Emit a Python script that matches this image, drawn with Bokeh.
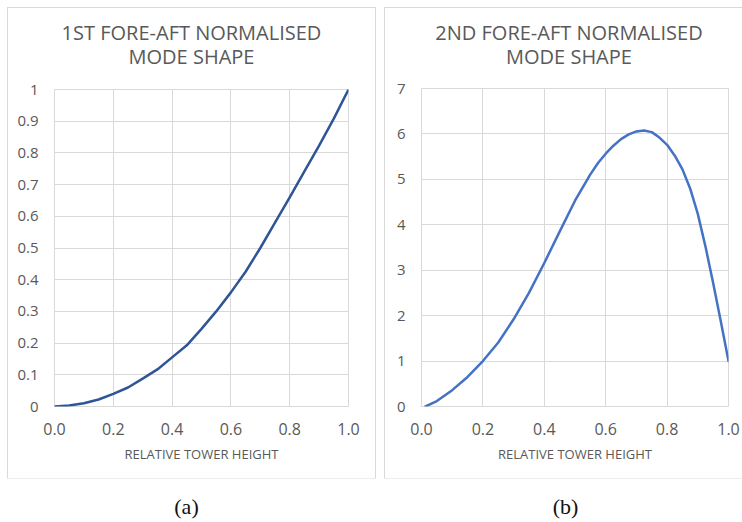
from bokeh.plotting import figure
from bokeh.layouts import row, column, Spacer
from bokeh.models import Range1d, FixedTicker, CustomJSTickFormatter, PrintfTickFormatter
from bokeh.core.properties import value
from bokeh.embed import file_html
from bokeh.resources import INLINE

# First fore-aft mode shape (normalised to tip = 1)
height_1 = [0.0, 0.05, 0.1, 0.15, 0.2, 0.25, 0.3, 0.35, 0.4, 0.45, 0.5,
            0.55, 0.6, 0.65, 0.7, 0.75, 0.8, 0.85, 0.9, 0.95, 1.0]
mode_1 = [0.0, 0.003, 0.01, 0.022, 0.04, 0.06, 0.088, 0.117, 0.155, 0.193, 0.245,
          0.3, 0.36, 0.425, 0.5, 0.58, 0.66, 0.742, 0.823, 0.908, 1.0]

# Second fore-aft mode shape (normalised to tip = 1)
height_2 = [0.013, 0.05, 0.1, 0.15, 0.2, 0.25, 0.3, 0.35, 0.4, 0.45, 0.5, 0.55,
            0.575, 0.6, 0.625, 0.65, 0.675, 0.7, 0.725, 0.75, 0.775, 0.8, 0.825,
            0.85, 0.875, 0.9, 0.925, 0.95, 0.975, 1.0]
mode_2 = [0.0, 0.12, 0.36, 0.65, 1.0, 1.41, 1.92, 2.5, 3.16, 3.85, 4.53, 5.11,
          5.36, 5.565, 5.74, 5.885, 5.99, 6.055, 6.075, 6.04, 5.92, 5.76, 5.52,
          5.22, 4.8, 4.24, 3.52, 2.72, 1.87, 1.0]

x_ticks = [0.0, 0.2, 0.4, 0.6, 0.8, 1.0]
y_ticks_1 = [0.0, 0.1, 0.2, 0.3, 0.4, 0.5, 0.6, 0.7, 0.8, 0.9, 1.0]
y_ticks_2 = [0, 1, 2, 3, 4, 5, 6, 7]

titles = [["1ST FORE-AFT NORMALISED", "MODE SHAPE"],
          ["2ND FORE-AFT NORMALISED", "MODE SHAPE"]]
x_label = "RELATIVE TOWER HEIGHT"
captions = ["(a)", "(b)"]

GREY = "#595959"
GRID = "#d9d9d9"
FONT = "Open Sans"
TITLE_H = 70


def blank(width, height):
    """A bare, axis-free figure whose data units are pixels (y measured downward)."""
    f = figure(width=width, height=height, x_range=Range1d(0, width),
               y_range=Range1d(height, 0), x_axis_location=None, y_axis_location=None,
               output_backend="svg", toolbar_location=None, title=None, min_border=0)
    f.grid.visible = False
    f.outline_line_color = None
    f.background_fill_color = "white"
    f.border_fill_color = "white"
    return f


def title_block(width, lines, cx):
    t = blank(width, TITLE_H)
    t.text(x=[cx, cx], y=[24, 48], text=lines, text_align="center",
           text_baseline="alphabetic", text_font=value(FONT), text_font_size="20px",
           text_color=GREY)
    return t


def chart(width, border_left, border_right, border_top, y_max, y_ticks, xs, ys, color):
    p = figure(width=width, height=470 - TITLE_H, x_range=Range1d(0, 1),
               y_range=Range1d(0, y_max), output_backend="svg", toolbar_location=None,
               title=None, min_border_left=border_left, min_border_right=border_right,
               min_border_top=border_top, min_border_bottom=72)
    p.background_fill_color = "white"
    p.border_fill_color = "white"
    p.outline_line_color = GRID

    for ax in (p.xaxis[0], p.yaxis[0]):
        ax.axis_line_color = None
        ax.major_tick_line_color = None
        ax.minor_tick_line_color = None
        ax.major_tick_in = 0
        ax.major_tick_out = 0
        ax.major_label_text_color = GREY
        ax.major_label_text_font = FONT
        ax.major_label_standoff = 16

    p.xaxis.ticker = FixedTicker(ticks=x_ticks)
    p.xaxis.formatter = PrintfTickFormatter(format="%.1f")
    p.xaxis.major_label_text_font_size = "16px"
    p.xaxis.major_label_standoff = 16
    p.xaxis.axis_label = x_label
    p.xaxis.axis_label_text_font = FONT
    p.xaxis.axis_label_text_font_size = "13px"
    p.xaxis.axis_label_text_font_style = "normal"
    p.xaxis.axis_label_text_color = GREY
    p.xaxis.axis_label_standoff = 7

    p.yaxis.ticker = FixedTicker(ticks=y_ticks)
    p.yaxis.formatter = CustomJSTickFormatter(code="return String(Math.round(tick * 10) / 10);")
    p.yaxis.major_label_text_font_size = "15px"

    p.xgrid.grid_line_color = GRID
    p.ygrid.grid_line_color = GRID

    p.line(xs, ys, line_color=color, line_width=2.5, line_join="round", line_cap="round")
    return p


def caption(width, text, cx):
    c = blank(width, 44)
    c.text(x=[cx], y=[28], text=[text], text_align="center", text_baseline="middle",
           text_font=value("Liberation Serif"), text_font_size="22px", text_color="#111111")
    return c


box = {"outline": "1px solid " + GRID}

panel_a = column(title_block(367, titles[0], 171),
                 chart(367, 46, 27, 11, 1, y_ticks_1, height_1, mode_1, "#2f5597"),
                 styles=box)
panel_b = column(title_block(357, titles[1], 171.5),
                 chart(357, 36, 14, 10, 7, y_ticks_2, height_2, mode_2, "#4472c4"),
                 styles=box)

layout = column(Spacer(height=8),
                row(Spacer(width=8), panel_a, Spacer(width=10), panel_b),
                row(caption(380, captions[0], 186), caption(362, captions[1], 185)))

with open("out.html", "w") as f:
    f.write(file_html(layout, INLINE))
